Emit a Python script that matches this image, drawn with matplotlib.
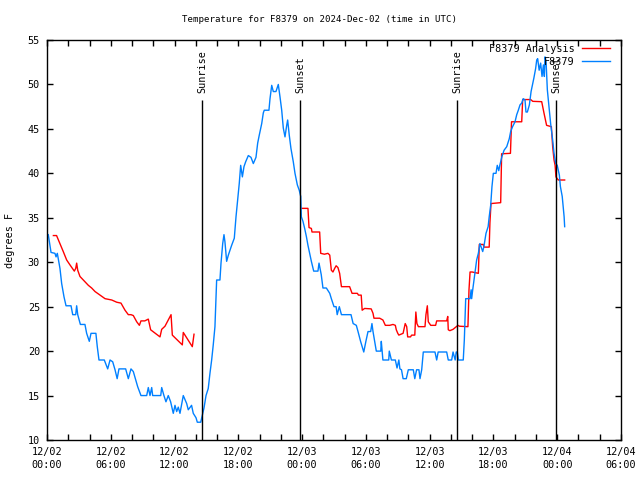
import matplotlib
matplotlib.use('Agg')
import matplotlib.pyplot as plt
import numpy as np

# hours since 2024-12-02 00:00 UTC
obs_hours = [0.12, 0.38, 0.75, 0.85, 0.97, 1.06, 1.22, 1.38, 1.6, 1.79, 2.26, 2.42, 2.7, 2.79, 2.89,
             3.14, 3.57, 3.73, 3.98, 4.14, 4.6, 4.73, 4.89, 5.39, 5.71, 5.93, 6.18, 6.4, 6.6, 6.77,
             7.4, 7.65, 7.9, 8.12, 8.53, 8.84, 9.38, 9.53, 9.69, 9.85, 9.94, 10.7, 10.79, 11.0, 11.19,
             11.41, 11.63, 11.88, 12.04, 12.2, 12.35, 12.51, 12.82, 13.14, 13.29, 13.6, 13.76, 14.02,
             14.14, 14.46, 14.61, 14.77, 14.96, 15.17, 15.33, 15.49, 15.64, 15.8, 15.9, 15.96, 16.27,
             16.37, 16.53, 16.65, 16.74, 16.9, 17.06, 17.37, 17.62, 17.78, 17.94, 18.09, 18.22, 18.38,
             18.53, 18.69, 18.94, 19.19, 19.41, 19.66, 19.82, 19.97, 20.2, 20.35, 20.44, 20.88, 20.98,
             21.14, 21.29, 21.54, 21.76, 21.92, 22.08, 22.23, 22.39, 22.55, 22.64, 22.79, 22.95, 23.17,
             23.33, 23.55, 23.73, 23.87, 23.93, 24.08, 24.24, 24.4, 24.55, 24.71, 24.87, 25.09, 25.49,
             25.59, 25.8, 25.96, 26.28, 26.6, 26.75, 27.0, 27.2, 27.3, 27.5, 27.7, 28.6, 28.8, 29.1,
             29.26, 29.5, 29.8, 30.0, 30.2, 30.45, 30.57, 30.67, 30.83, 30.98, 31.4, 31.45, 31.6, 32.15,
             32.2, 32.4, 32.77, 32.93, 33.1, 33.2, 33.35, 33.5, 33.8, 33.99, 34.46, 34.6, 34.77, 34.99,
             35.09, 35.25, 35.4, 36.5, 36.66, 36.8, 37.6, 37.75, 38.07, 38.2, 38.4, 38.5, 38.6, 38.7,
             39.16, 39.26, 39.39, 39.8, 39.9, 39.95, 40.05, 40.26, 40.42, 40.58, 40.73, 40.99, 41.1,
             41.3, 41.5, 41.6, 41.74, 41.86, 41.99, 42.24, 42.36, 42.5, 42.6, 42.8, 43.0, 43.25, 43.49,
             43.62, 43.8, 44.03, 44.19, 44.34, 44.5, 44.66, 44.8, 44.97, 45.06, 45.19, 45.38, 45.54,
             45.7, 45.8, 45.97, 46.07, 46.16, 46.3, 46.44, 46.57, 46.7, 46.79, 46.85, 46.95, 47.07,
             47.22, 47.38, 47.57, 47.7, 47.86, 48.0, 48.2, 48.3, 48.47, 48.56, 48.65, 48.7]
obs_temps = [33.1, 31.1, 31.0, 30.6, 31.0, 30.4, 29.3, 27.6, 26.1, 25.1, 25.1, 24.1, 24.1, 25.1, 24.1,
             23.0, 23.0, 22.0, 21.1, 22.0, 22.0, 20.5, 19.0, 19.0, 18.0, 19.0, 18.8, 17.9, 16.9, 18.0,
             18.0, 16.9, 18.0, 17.7, 16.0, 15.0, 15.0, 15.9, 15.0, 15.9, 15.0, 15.0, 15.9, 15.0, 14.3,
             15.0, 14.3, 13.0, 13.9, 13.2, 13.7, 13.0, 15.0, 14.1, 13.4, 13.9, 13.0, 12.5,
             12.0, 12.0, 12.8, 13.6, 15.0, 15.8, 17.5, 19.0, 20.7, 22.75, 26.1, 28.0, 28.0,
             29.9, 32.1, 33.1, 32.3, 30.1, 30.8, 31.9, 32.7, 35.1, 37.0, 38.9, 40.9, 39.6,
             40.75, 41.3, 42.0, 41.8, 41.1, 41.8, 43.4, 44.3, 45.6, 46.8, 47.1, 47.1, 48.4,
             49.9, 49.2, 49.2, 50.0, 48.6, 47.1, 45.1, 44.1, 45.4, 46.0, 44.3, 42.8, 41.3,
             40.0, 38.7, 38.1, 37.4, 35.1, 34.6, 33.8, 32.9, 31.9, 31.0, 30.1, 29.0, 29.0,
             29.9, 28.6, 27.1, 27.1, 26.5, 25.9, 25.0, 25.0, 24.1, 25.0, 24.1, 24.1, 23.1, 22.9,
             22.2, 21.1, 19.9, 21.1, 22.2, 22.2, 23.1, 22.2, 21.1, 20.0, 20.0, 21.1, 19.0, 19.0,
             20.0, 19.0, 19.0, 18.1, 19.0, 18.0, 17.9, 16.9, 16.9, 17.9, 17.9, 16.9, 17.9, 17.9,
             16.9, 17.9, 19.9, 19.9, 19.0, 19.9, 19.9, 19.0, 19.0, 19.9, 19.0, 19.9, 19.9, 19.0,
             19.0, 21.25, 25.9, 25.9, 26.9, 25.9, 26.9, 28.75, 30.25, 31.0, 32.1, 31.2, 31.75,
             33.25, 34.0, 35.1, 36.4, 38.5, 40.0, 40.0, 40.9, 40.3, 40.9, 41.9, 42.6, 43.0, 43.9,
             44.7, 45.25, 45.8, 46.6, 47.1, 47.7, 47.9, 48.4, 48.25, 46.9, 46.9, 47.7, 49.2,
             50.1, 50.7, 51.8, 52.75, 52.9, 51.6, 52.4, 50.9, 52.2, 50.9, 53.1, 52.6, 49.4,
             47.5, 45.6, 43.75, 42.25, 41.1, 40.9, 39.8, 38.5, 37.4, 36.25, 35.1, 34.0]

# analysis series (NaN marks the gap)
ana_hours = [0.6, 0.9, 1.22, 1.53, 1.85, 2.16, 2.57, 2.7, 2.79, 2.89, 3.1, 3.57, 3.89, 4.2, 4.52,
             4.99, 5.46, 6.09, 6.56, 6.96, 7.34, 7.65, 7.9, 8.12, 8.44, 8.69, 8.84, 9.2, 9.53, 9.75,
             10.63, 10.79, 11.1, 11.67, 11.79, 12.73, 12.82, 13.67, 13.83, 18.0,
             23.99, 24.55, 24.65, 24.87, 24.93, 25.65, 25.75, 26.1, 26.43, 26.6, 26.75, 26.9, 27.06,
             27.2, 27.37, 27.53, 27.7, 28.47, 28.7, 29.2, 29.3, 29.56, 29.65, 29.88, 30.5, 30.67,
             30.76, 31.3, 31.6, 31.83, 32.24, 32.55, 32.77, 32.86, 33.0, 33.1, 33.5, 33.7, 33.84,
             33.93, 34.2, 34.3, 34.6, 34.7, 34.8, 34.94, 35.56, 35.65, 35.78, 35.87, 36.1, 36.56,
             36.66, 37.6, 37.7, 37.75, 37.9, 38.2, 38.5, 38.66, 38.8, 39.6, 39.7, 39.8, 40.0, 40.58,
             40.67, 41.04, 41.1, 41.6, 41.67, 41.77, 42.68, 42.77, 43.6, 43.7, 44.66, 44.75, 45.5,
             45.7, 46.54, 46.76, 47.0, 47.45, 47.57, 47.7, 47.8, 47.88, 48.1, 48.7]
ana_temps = [33.0, 33.0, 32.1, 31.2, 30.25, 29.7, 29.0, 29.3, 29.9, 29.1, 28.4, 27.8, 27.4, 27.1, 26.7,
             26.3, 25.9, 25.75, 25.5, 25.4, 24.6, 24.1, 24.1, 24.0, 23.3, 22.9, 23.4, 23.4, 23.6, 22.4,
             21.6, 22.45, 22.8, 24.1, 21.8, 20.7, 22.1, 20.5, 21.9, np.nan,
             36.06, 36.06, 33.9, 33.8, 33.4, 33.4, 31.0, 30.9, 31.0, 30.8, 29.1, 28.9, 29.3,
             29.6, 29.4, 28.75, 27.25, 27.25, 26.5, 26.5, 26.3, 26.3, 24.6, 24.8, 24.75, 24.25,
             23.7, 23.7, 23.5, 22.9, 22.9, 23.0, 22.9, 22.4, 22.0, 21.8, 22.0, 23.1, 22.75,
             21.6, 21.6, 21.8, 21.8, 24.4, 23.1, 22.75, 22.75, 24.1, 25.1, 23.3, 22.9, 22.9,
             23.4, 23.4, 23.9, 22.4, 22.3, 22.45, 22.75, 22.9, 22.8, 22.75, 26.9, 28.9, 28.9, 28.75,
             32.0, 32.0, 31.7, 31.7, 34.45, 36.6, 36.7, 42.2, 42.25, 45.8, 45.8, 48.3, 48.3,
             48.1, 48.06, 46.75, 45.4, 45.25, 43.0, 41.5, 40.9, 39.6, 39.25, 39.25]

sun_hours = [14.6, 23.83, 38.6, 47.91]
sun_labels = ['Sunrise', 'Sunset', 'Sunrise', 'Sunset']

tick_hours = list(range(0, 55, 6))
tick_labels = ['12/02\n00:00', '12/02\n06:00', '12/02\n12:00', '12/02\n18:00',
               '12/03\n00:00', '12/03\n06:00', '12/03\n12:00', '12/03\n18:00',
               '12/04\n00:00', '12/04\n06:00']

plt.rcParams['font.family'] = ['DejaVu Sans Mono']
plt.rcParams['font.size'] = 7.3

fig = plt.figure(figsize=(6.4, 4.8), dpi=100)
ax = fig.add_axes([47/640, 40/480, 574/640, 400/480])

ax.plot(ana_hours, ana_temps, color='#ff0000', linewidth=1.0, label='F8379 Analysis')
ax.plot(obs_hours, obs_temps, color='#0080ff', linewidth=1.0, label='F8379')

for h, lab in zip(sun_hours, sun_labels):
    ax.vlines(h, 10, 48.25, color='black', linewidth=1.0)
    ax.text(h, 49.0, lab, rotation=90, ha='center', va='bottom')

ax.set_xlim(0, 54)
ax.set_ylim(10, 55)
ax.set_xticks(tick_hours)
ax.set_xticklabels(tick_labels, linespacing=1.35)
ax.set_xticks(np.arange(0, 55, 2), minor=True)
ax.set_yticks(range(10, 56, 5))
ax.tick_params(which='both', direction='in', top=True, right=True, length=4, width=1, pad=5)
for s in ax.spines.values():
    s.set_linewidth(1.0)

ax.legend(loc='upper right', bbox_to_anchor=(0.98, 0.99), frameon=False, markerfirst=False,
          handlelength=2.7, handletextpad=0.75, borderaxespad=0, borderpad=0, labelspacing=0.25)

fig.text(0.5, 1 - 20/480, 'Temperature for F8379 on 2024-Dec-02 (time in UTC)',
         ha='center', va='center', fontsize=6.6)
fig.text(10/640, 0.5, 'degrees F', rotation=90, ha='center', va='center')

fig.savefig('out.png', dpi=100)
